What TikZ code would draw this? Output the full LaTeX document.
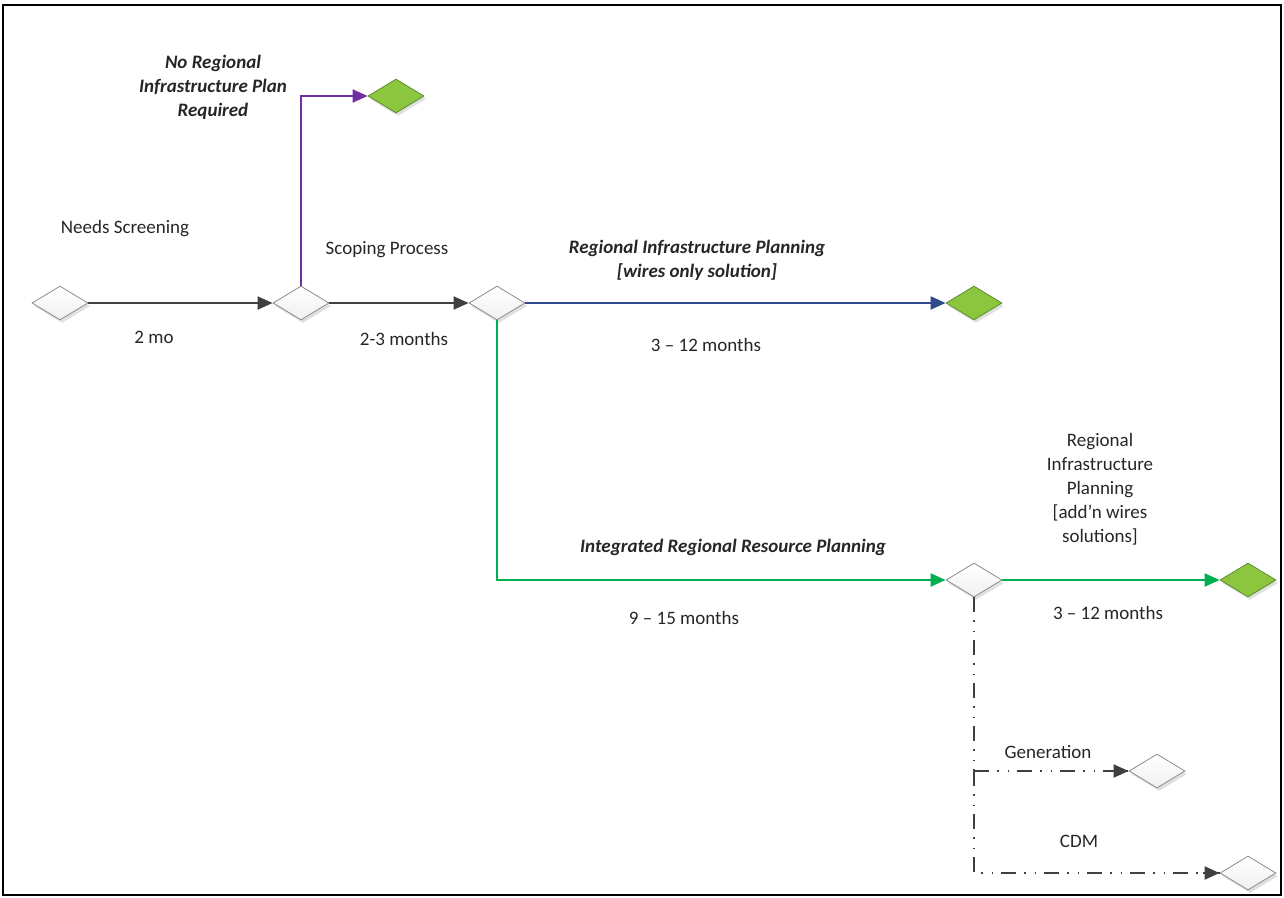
\documentclass[tikz,border=0pt]{standalone}
\usepackage{fontspec}
\setmainfont{Carlito}
\usetikzlibrary{shapes.geometric,arrows.meta,shadows}
\definecolor{linegray}{HTML}{404040}
\definecolor{dpurple}{HTML}{7030A0}
\definecolor{dblue}{HTML}{2F4B8C}
\definecolor{dgreen}{HTML}{00B050}
\definecolor{lgreen}{HTML}{8CC63F}
\definecolor{greenedge}{HTML}{5E8C2E}
\definecolor{dedge}{HTML}{8C8C8C}
\tikzset{
  dmd/.style={diamond, minimum width=56pt, minimum height=34pt, aspect=1.65, inner sep=0pt,
     draw=dedge, line width=0.8pt, top color=white, bottom color=gray!12,
     drop shadow={shadow xshift=2pt, shadow yshift=-3pt, fill=gray!40, opacity=0.6}},
  gdmd/.style={dmd, top color=lgreen, bottom color=lgreen, draw=greenedge},
  conn/.style={line width=2pt, -{Triangle[length=15pt,width=13pt]}},
  ddd/.style={line width=2pt, draw=linegray, dash pattern=on 15pt off 8pt on 1.5pt off 9pt on 1.5pt off 8pt},
  lbl/.style={font=\fontsize{19pt}{24pt}\selectfont, align=center, inner sep=0pt, text=black!85},
  blbl/.style={lbl, font=\fontsize{19pt}{24pt}\selectfont\bfseries\itshape},
}
\begin{document}
\begin{tikzpicture}[x=1pt,y=-1pt]
\useasboundingbox (0,0) rectangle (1284,897);
\draw[line width=2pt] (3,5) rectangle (1281,895);
% diamonds
\node[dmd] (d1) at (60,303) {};
\node[dmd] (d2) at (301,303) {};
\node[dmd] (d3) at (497,303) {};
\node[gdmd] (g1) at (396,96) {};
\node[gdmd] (g2) at (974,303) {};
\node[dmd] (d6) at (974,580) {};
\node[gdmd] (g3) at (1248,580) {};
\node[dmd] (d8) at (1157,771) {};
\node[dmd] (d9) at (1248,873) {};
% connectors
\draw[conn, draw=linegray] (d1.east) -- (d2.west);
\draw[conn, draw=linegray] (d2.east) -- (d3.west);
\draw[conn, draw=dpurple] (d2.north) |- (g1.west);
\draw[conn, draw=dblue] (d3.east) -- (g2.west);
\draw[conn, draw=dgreen] (d3.south) |- (d6.west);
\draw[conn, draw=dgreen] (d6.east) -- (g3.west);
\coordinate (br) at (d6.south |- d8.west);
\draw[ddd] (d6.south) -- (br);
\draw[ddd] (br) |- (d9.west);
\draw[ddd] (br) -- (d8.west);
\draw[line width=2pt, draw=linegray, -{Triangle[length=15pt,width=13pt]}] ([xshift=-17pt]d8.west) -- (d8.west);
\draw[line width=2pt, draw=linegray, -{Triangle[length=15pt,width=13pt]}] ([xshift=-17pt]d9.west) -- (d9.west);
% labels
\node[lbl] (t1) at (125,229) {Needs Screening};
\node[lbl] (t2) at (154,337) {2 mo};
\node[blbl] (t3) at (213,87) {No Regional\\Infrastructure Plan\\Required};
\node[lbl] (t4) at (387,250) {Scoping Process};
\node[lbl] (t5) at (404,339) {2-3 months};
\node[blbl] (t6) at (697,260) {Regional Infrastructure Planning\\{}[wires only solution]};
\node[lbl] (t7) at (706,345) {3 -- 12 months};
\node[blbl] (t8) at (733,547) {Integrated Regional Resource Planning};
\node[lbl] (t9) at (684,618) {9 -- 15 months};
\node[lbl] (t10) at (1100,489) {Regional\\Infrastructure\\Planning\\{}[add’n wires\\solutions]};
\node[lbl] (t11) at (1108,613) {3 -- 12 months};
\node[lbl] (t12) at (1048,752) {Generation};
\node[lbl] (t13) at (1079,841) {CDM};
\end{tikzpicture}
\end{document}
